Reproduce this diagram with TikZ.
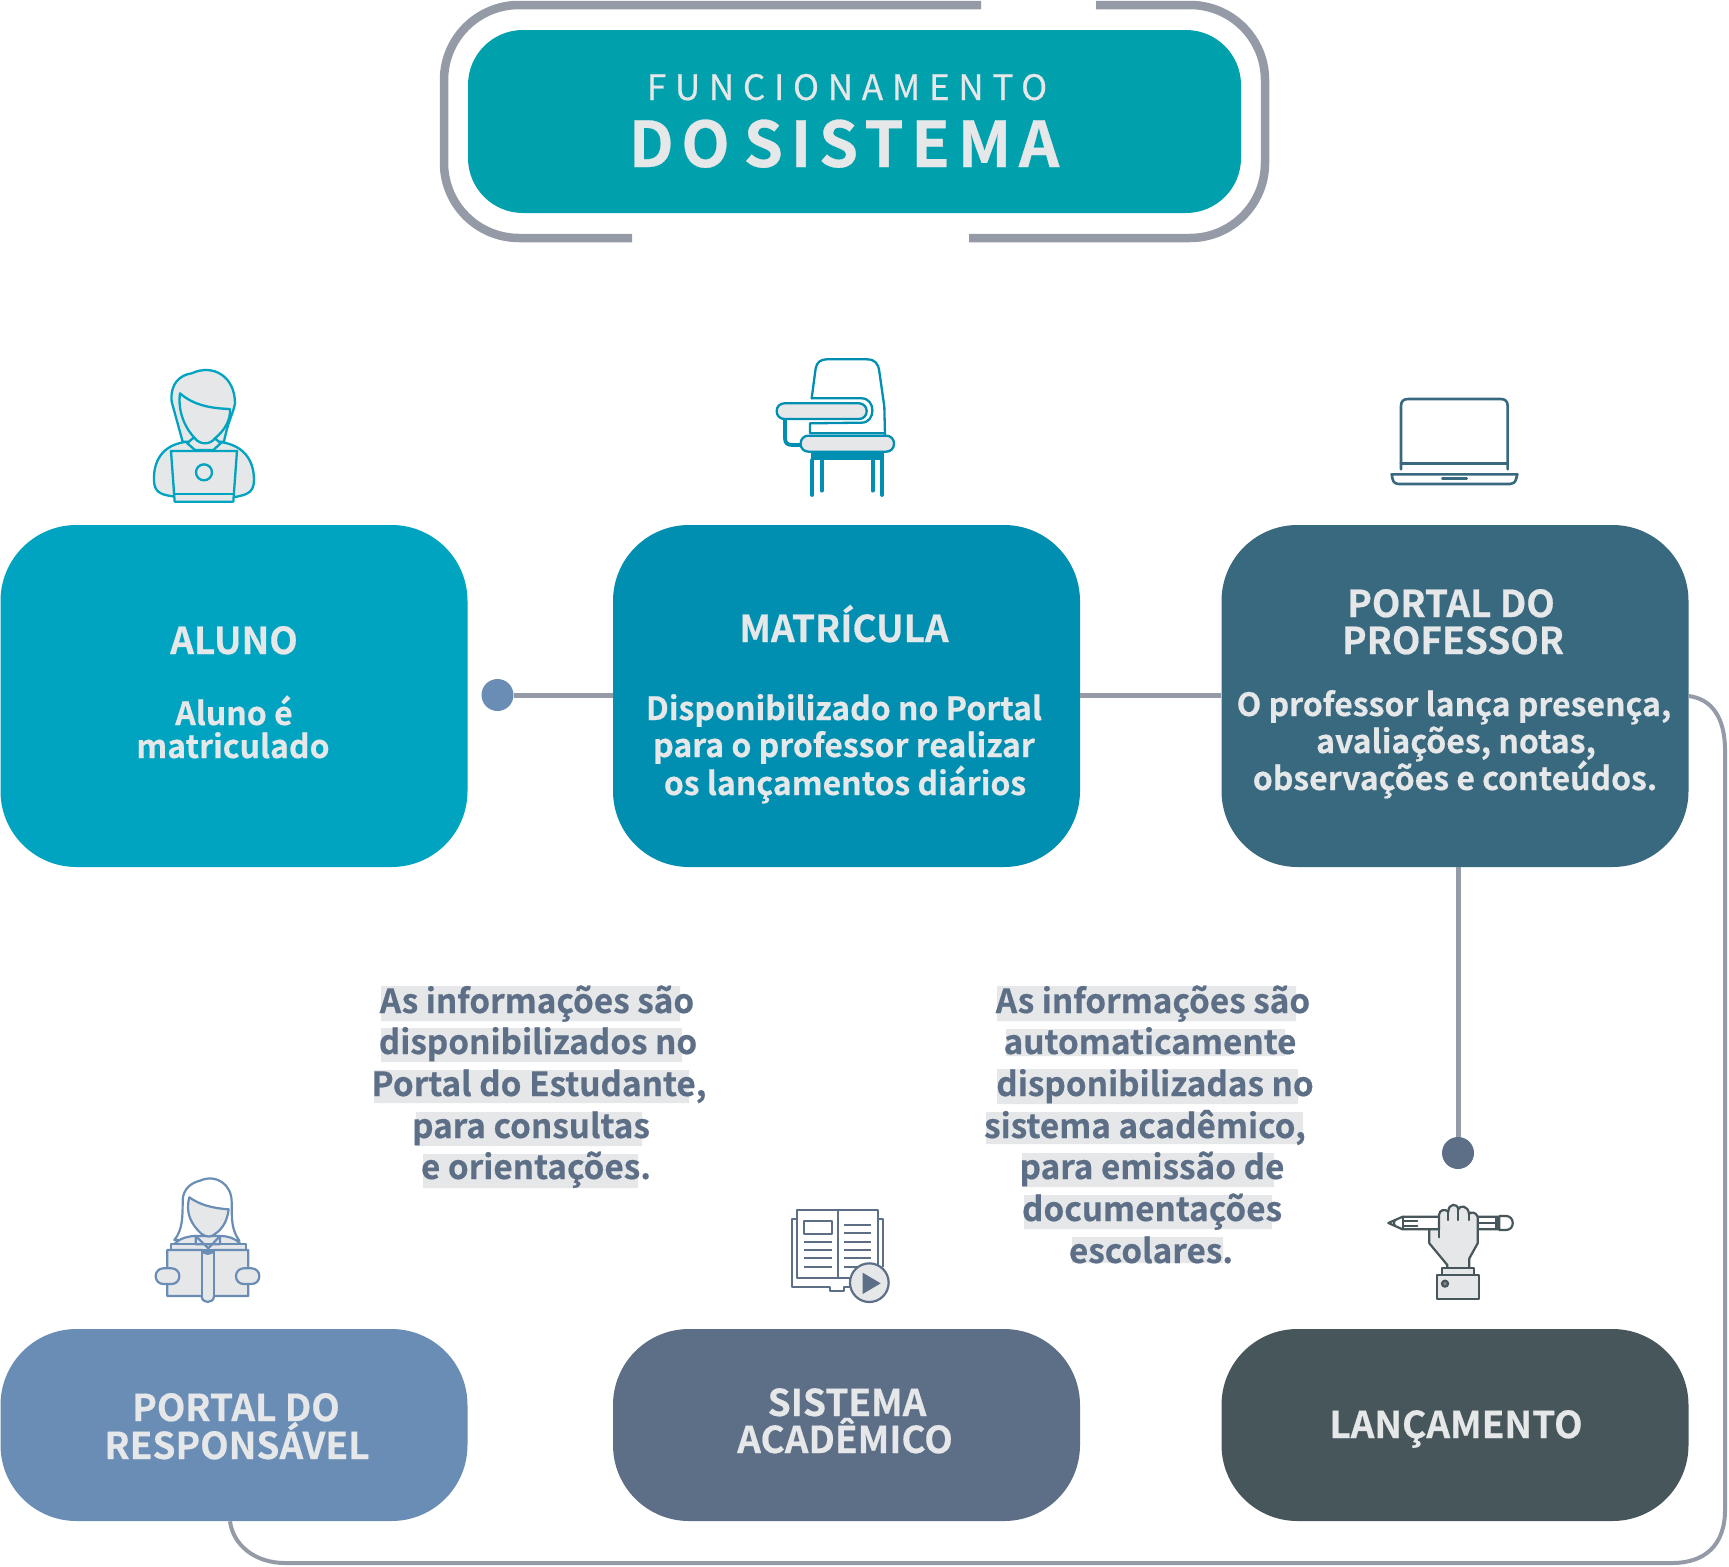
\documentclass[tikz,border=0pt]{standalone}
\usepackage{fontspec}
\setmainfont{Noto Sans CJK SC}[BoldFont={Noto Sans CJK SC Bold},BoldFeatures={FakeBold=0.5}]
\usetikzlibrary{calc}
\definecolor{paper}{HTML}{E6E7E8}
\definecolor{framegray}{HTML}{959BA6}
\definecolor{ctitle}{HTML}{00A0AC}
\definecolor{caluno}{HTML}{00A3C0}
\definecolor{cmat}{HTML}{008FB0}
\definecolor{cprof}{HTML}{38697F}
\definecolor{cresp}{HTML}{6A8DB5}
\definecolor{csis}{HTML}{5D6E87}
\definecolor{clan}{HTML}{47565B}
\tikzset{
  x=1pt,y=-1pt,
  card/.style={draw=none,rounded corners=76pt,minimum width=467pt,minimum height=#1,inner sep=0pt},
  head/.style={anchor=base,inner sep=0pt,text=paper,font=\bfseries\fontsize{37}{37}\selectfont},
  bodytxt/.style={anchor=base,inner sep=0pt,text=paper,font=\bfseries\fontsize{32}{32}\selectfont},
  para/.style={anchor=base,inner sep=0pt,text=csis,font=\bfseries\fontsize{33.3}{33.3}\selectfont},
  conn/.style={draw=framegray,line width=5pt},
  dotnode/.style={circle,inner sep=0pt,minimum size=32pt},
  ic/.style={line width=#1,line join=round,line cap=round},
}
\begin{document}
\begin{tikzpicture}
\useasboundingbox (0,0) rectangle (1729,1566);
% frame
\draw[framegray,line width=8.5pt,rounded corners=75pt] (981,5) -- (444,5) -- (444,238) -- (632,238);
\draw[framegray,line width=8.5pt,rounded corners=75pt] (969,238) -- (1265,238) -- (1265,5) -- (1096,5);
% nodes for cards
\node[card=183pt,minimum width=773pt,rounded corners=55pt,fill=ctitle] (title) at (854.5,121.5) {};
\node[card=342pt,fill=caluno] (aluno) at (234,696) {};
\node[card=342pt,fill=cmat] (matricula) at (846.5,696) {};
\node[card=342pt,fill=cprof] (professor) at (1455,696) {};
\node[card=192pt,fill=cresp] (responsavel) at (234,1425) {};
\node[card=192pt,fill=csis] (sistema) at (846.5,1425) {};
\node[card=192pt,fill=clan] (lancamento) at (1455,1425) {};
\node[dotnode,fill=cresp] (dotA) at (497.5,695) {};
\node[dotnode,fill=csis] (dotB) at (1458,1153) {};
% connectors
\draw[conn] (dotA) -- (dotA -| matricula.west);
\draw[conn] (matricula.east |- dotA) -- (professor.west |- dotA);
\draw[conn] (dotB) -- (dotB |- professor.south);
\draw[framegray,line width=4pt] (professor.east) .. controls (1712,699) and (1725,718) .. (1725,750) -- (1725,1510) .. controls (1725,1545) and (1705,1563) .. (1672,1563) -- (285,1563) .. controls (255,1563) and (233,1545) .. ($(responsavel.south)+(-4,0)$);
% title
\node[anchor=base,inner sep=0pt,text=paper,font=\fontsize{35}{35}\selectfont\addfontfeature{LetterSpace=25,FakeBold=0.6}] (t1) at (847,100) {FUNCIONAMENTO};
\node[anchor=base,inner sep=0pt,text=paper,font=\bfseries\fontsize{63}{63}\selectfont\addfontfeature{LetterSpace=12}] (t2) at (844,167) {DO\hspace{-8pt} SISTEMA};
% card text
\node[head] (a1) at (234,654) {ALUNO};
\node[bodytxt] (a2) at (234,725) {Aluno é};
\node[bodytxt] (a3) at (233,758) {matriculado};
\node[head] (m1) at (844,642) {MATRÍCULA};
\node[bodytxt] (m2) at (844,720) {Disponibilizado no Portal};
\node[bodytxt] (m3) at (844,757) {para o professor realizar};
\node[bodytxt] (m4) at (845,795) {os lançamentos diários};
\node[head] (p1) at (1451,617) {PORTAL DO};
\node[head] (p2) at (1453,654) {PROFESSOR};
\node[bodytxt] (p3) at (1454,716) {O professor lança presença,};
\node[bodytxt] (p4) at (1456,753) {avaliações, notas,};
\node[bodytxt] (p5) at (1455,790) {observações e conteúdos.};
\node[head] (r1) at (236,1421) {PORTAL DO};
\node[head] (r2) at (237,1459) {RESPONSÁVEL};
\node[head] (s1) at (847,1416) {SISTEMA};
\node[head] (s2) at (845,1453) {ACADÊMICO};
\node[head] (l1) at (1456,1438) {LANÇAMENTO};
% highlights
\fill[paper] (381,986) rectangle (680,1021) (381,1028) rectangle (682,1062) (374,1070) rectangle (689,1103) (416,1112) rectangle (642,1146) (423,1154) rectangle (638,1188);
\fill[paper] (997,986) rectangle (1296,1021) (1006,1029) rectangle (1285,1056) (997,1069) rectangle (1298,1104) (986,1112) rectangle (1303,1144) (1022,1153) rectangle (1274,1187) (1024,1195) rectangle (1272,1229) (1072,1237) rectangle (1223,1263);
\node[para] (la) at (537,1013) {As informações são};
\node[para] (lb) at (538,1054) {disponibilizados no};
\node[para] (lc) at (539,1096) {Portal do Estudante,};
\node[para] (ld) at (531,1138) {para consultas};
\node[para] (le) at (536,1179) {e orientações.};
\node[para] (ra) at (1153,1013) {As informações são};
\node[para] (rb) at (1150,1054) {automaticamente};
\node[para] (rc) at (1155,1096) {disponibilizadas no};
\node[para] (rd) at (1145,1138) {sistema acadêmico,};
\node[para] (re) at (1152,1179) {para emissão de};
\node[para] (rf) at (1152,1221) {documentações};
\node[para] (rg) at (1151,1263) {escolares.};
% icon 1 student
\begin{scope}[shift={(100,340)},x=0.3333pt,y=-0.3333pt,ic=2.3pt,draw=caluno,fill=paper]
\filldraw (225,470) .. controls (190,465) and (162,462) .. (162,420) .. controls (160,350) and (200,310) .. (265,305) -- (350,305) .. controls (420,310) and (462,350) .. (462,420) .. controls (462,462) and (435,465) .. (400,472) -- cycle;
\filldraw (248,305) -- (215,185) .. controls (210,130) and (240,105) .. (275,100) .. controls (340,70) and (405,110) .. (405,190) .. controls (400,220) and (385,240) .. (372,305) -- cycle;
\filldraw (262,310) -- (285,330) -- (340,330) -- (362,310) -- (345,295) -- (278,295) -- cycle;
\filldraw (240,160) .. controls (232,220) and (260,270) .. (285,295) .. controls (300,315) and (330,315) .. (345,295) .. controls (375,270) and (392,240) .. (390,207) .. controls (330,205) and (280,195) .. (240,160) -- cycle;
\filldraw (213,333) -- (411,333) -- (400,485) -- (224,485) -- cycle;
\draw (222,463) -- (402,463);
\draw (312,397) circle[radius=24];
\end{scope}
% icon 2 chair
\begin{scope}[shift={(750,340)},x=0.3333pt,y=-0.3333pt,ic=2.3pt,draw=cmat,fill=paper]
\draw (185,175) -- (197,85) .. controls (200,65) and (215,58) .. (230,58) -- (350,58) .. controls (375,58) and (385,70) .. (388,95) -- (403,200) -- (405,285);
\draw (185,175) -- (335,175) .. controls (378,175) and (378,248) .. (335,248) -- (180,250) -- (180,280) -- (405,280);
\draw[line width=3.8pt] (105,237) -- (105,295) .. controls (105,312) and (115,315) .. (130,315) -- (155,315);
\filldraw[rounded corners=7.6pt] (80,190) rectangle (350,237);
\filldraw[rounded corners=7.6pt] (152,287) rectangle (432,335);
\fill[cmat] (182,336) rectangle (402,360);
\draw[line width=3.8pt] (187,360) -- (187,465) (215,360) -- (215,452) (368,360) -- (368,452) (396,360) -- (396,465);
\end{scope}
% icon 3 laptop
\begin{scope}[shift={(1370,380)},x=0.3333pt,y=-0.3333pt,ic=2.6pt,draw=cprof]
\draw (93,268) -- (93,78) .. controls (93,64) and (100,57) .. (115,57) -- (392,57) .. controls (406,57) and (413,64) .. (413,78) -- (413,268);
\draw (93,250) -- (413,250);
\draw (65,283) -- (442,283) -- (438,298) .. controls (435,308) and (428,312) .. (420,312) -- (88,312) .. controls (78,312) and (70,308) .. (68,298) -- cycle;
\draw (217,296) -- (290,296);
\end{scope}
% icon 4 reader
\begin{scope}[shift={(130,1160)},x=0.3333pt,y=-0.3333pt,ic=2.2pt,draw=cresp,fill=paper]
\filldraw[fill=white] (133,240) .. controls (158,210) and (158,170) .. (158,120) .. controls (160,85) and (185,68) .. (210,62) .. controls (260,40) and (305,75) .. (305,125) .. controls (305,180) and (305,210) .. (328,242) -- cycle;
\filldraw (135,250) .. controls (150,235) and (175,228) .. (197,228) -- (270,228) .. controls (295,228) and (315,235) .. (330,250) -- (270,275) -- (195,275) -- cycle;
\filldraw (178,112) .. controls (165,160) and (185,195) .. (215,222) .. controls (228,232) and (245,232) .. (255,222) .. controls (280,205) and (292,180) .. (296,148) .. controls (250,145) and (210,135) .. (178,112) -- cycle;
\filldraw (122,270) -- (122,253) -- (347,253) -- (347,270) -- cycle;
\filldraw (197,228) -- (235,265) -- (270,228) -- (270,253) -- (197,253) -- cycle;
\filldraw (112,270) -- (215,270) .. controls (218,285) and (248,285) .. (252,270) -- (355,270) -- (355,408) -- (252,408) .. controls (252,432) and (215,432) .. (215,408) -- (112,408) -- cycle;
\draw (215,270) -- (215,408) (252,270) -- (252,408);
\filldraw[rounded corners=7.6pt] (77,325) rectangle (148,372);
\filldraw[rounded corners=7.6pt] (318,325) rectangle (388,372);
\end{scope}
% icon 5 book
\begin{scope}[shift={(770,1190)},x=0.3333pt,y=-0.3333pt,ic=2.2pt,draw=csis,fill=paper,line cap=butt]
\draw (82,87) -- (66,87) -- (66,292) -- (180,292) -- (180,302) -- (222,302) -- (222,292) -- (245,292);
\draw (323,87) -- (338,87) -- (338,230);
\draw (82,60) rectangle (323,265);
\draw (204,60) -- (204,265);
\draw (102,92) rectangle (186,132);
\draw (102,155) -- (185,155) (102,180) -- (185,180) (102,205) -- (185,205) (102,230) -- (185,230);
\draw (222,104) -- (303,104) (222,128) -- (303,128) (222,155) -- (303,155) (222,180) -- (303,180) (222,205) -- (303,205) (222,230) -- (303,230);
\filldraw (298,278) circle[radius=58];
\fill[csis] (278,248) -- (332,280) -- (278,312) -- cycle;
\end{scope}
% icon 6 hand and pencil
\begin{scope}[shift={(1370,1190)},x=0.3333pt,y=-0.3333pt,ic=2.2pt,draw=clan,fill=paper]
\draw (55,99) -- (98,80) -- (385,80) -- (385,118) -- (98,118) -- cycle;
\draw (75,90) .. controls (70,95) and (70,103) .. (75,108);
\draw (98,80) -- (98,118);
\draw (100,92) -- (142,92) (100,108) -- (142,108);
\draw (325,98) -- (380,98) (378,84) -- (378,115);
\draw (388,78) -- (408,78) .. controls (435,78) and (435,120) .. (408,120) -- (388,120) -- cycle;
\filldraw (207,118) -- (178,118) -- (178,160) -- (232,225) -- (232,235) -- (298,235) -- (298,205) -- (323,160) -- (323,80) .. controls (318,65) and (300,65) .. (297,72) .. controls (295,45) and (268,45) .. (265,58) .. controls (262,38) and (235,40) .. (235,65) .. controls (225,55) and (207,60) .. (207,75) -- cycle;
\draw (207,75) -- (207,142) (235,65) -- (235,90) (265,58) -- (265,90) (297,72) -- (297,90);
\filldraw (215,235) rectangle (313,255);
\filldraw (202,255) rectangle (327,327);
\filldraw[fill=clan!70] (225,281) circle[radius=9];
\end{scope}
\end{tikzpicture}
\end{document}
